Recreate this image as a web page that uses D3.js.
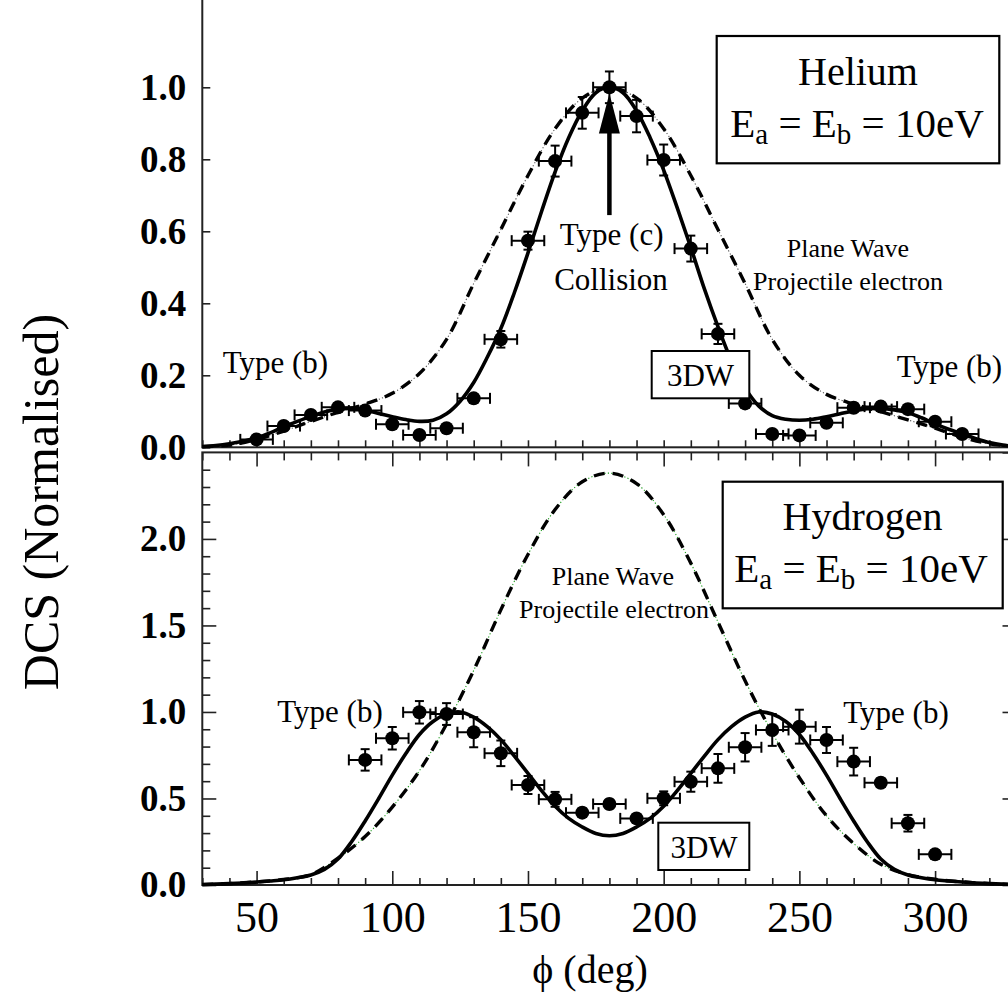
<!DOCTYPE html>
<html><head><meta charset="utf-8">
<script src="https://cdn.jsdelivr.net/npm/d3@7"></script>
<style>
body{margin:0;background:#fff}
svg{display:block}
text{font-family:"Liberation Serif","Times New Roman",Times,serif;fill:#000}
</style>
</head><body>
<svg id="chart" width="1008" height="995"></svg>
<script>
// ---------------- DATA ----------------
// Helium experiment
const phiHe = [50,60,70,80,90,100,110,120,130,140,150,160,170,180,190,200,210,220,230,240,250,260,270,280,290,300,310];
const dcsHe = [0.022,0.059,0.090,0.111,0.102,0.064,0.034,0.053,0.136,0.300,0.574,0.795,0.929,1.000,0.920,0.798,0.552,0.315,0.122,0.037,0.033,0.068,0.110,0.113,0.106,0.071,0.037];
const errHe = [0.01,0.01,0.01,0.012,0.012,0.01,0.01,0.01,0.012,0.023,0.025,0.043,0.044,0.044,0.045,0.043,0.036,0.028,0.012,0.01,0.01,0.01,0.012,0.012,0.012,0.01,0.01];
// Hydrogen experiment
const phiH2 = [90,100,110,120,130,140,150,160,170,180,190,200,210,220,230,240,250,260,270,280,290,300];
const dcsH2 = [0.723,0.848,0.998,0.988,0.883,0.761,0.578,0.495,0.418,0.468,0.385,0.501,0.597,0.674,0.796,0.896,0.915,0.838,0.713,0.591,0.357,0.177];
const errH2 = [0.062,0.065,0.065,0.063,0.087,0.074,0.052,0.043,0.025,0.025,0.025,0.040,0.058,0.083,0.082,0.092,0.098,0.075,0.080,0.025,0.048,0.025];
const phiErr = 6; // horizontal angular uncertainty (deg)

// Theory grids
const phi5 = [30,35,40,45,50,55,60,65,70,75,80,85,90,95,100,105,110,115,120,125,130,135,140,145,150,155,160,165,170,175,180,
              185,190,195,200,205,210,215,220,225,230,235,240,245,250,255,260,265,270,275,280,285,290,295,300,305,310,315,320,325,330];
const phi10 = [30,40,50,60,70,80,90,100,110,120,130,140,150,160,170,180,190,200,210,220,230,240,250,260,270,280,290,300,310,320,330];

// Helium 3DW (solid), on phi5
const he3DW = [0.002,0.005,0.010,0.017,0.026,0.040,0.057,0.072,0.086,0.098,0.106,0.108,0.103,0.094,0.085,0.077,0.072,0.075,0.093,0.128,0.180,0.250,0.330,0.430,0.540,0.655,0.765,0.860,0.935,0.985,1.000,
               0.985,0.935,0.860,0.770,0.665,0.555,0.440,0.335,0.240,0.165,0.115,0.088,0.078,0.075,0.078,0.085,0.093,0.101,0.107,0.108,0.104,0.096,0.082,0.065,0.050,0.037,0.024,0.013,0.006,0.002];
// Helium plane wave (dashed), on phi10
const hePW = [0.002,0.006,0.022,0.045,0.072,0.097,0.120,0.150,0.205,0.300,0.455,0.605,0.755,0.885,0.970,1.000,0.970,0.885,0.755,0.605,0.455,0.300,0.200,0.147,0.120,0.099,0.076,0.053,0.028,0.010,0.003];
// Hydrogen 3DW (solid), on phi5
const h23DW = [0.003,0.005,0.008,0.012,0.017,0.023,0.030,0.042,0.058,0.090,0.150,0.250,0.370,0.500,0.635,0.760,0.870,0.945,0.988,1.000,0.970,0.915,0.840,0.745,0.645,0.545,0.455,0.385,0.335,0.298,0.285,
               0.298,0.335,0.385,0.455,0.545,0.645,0.745,0.840,0.915,0.970,1.000,0.988,0.945,0.870,0.760,0.635,0.500,0.370,0.250,0.150,0.090,0.058,0.042,0.030,0.023,0.017,0.012,0.008,0.005,0.003];
// Hydrogen plane wave (dashed), on phi10
const h2PW = [0.002,0.008,0.018,0.032,0.060,0.155,0.280,0.450,0.660,0.930,1.240,1.590,1.910,2.170,2.330,2.380,2.320,2.140,1.860,1.520,1.180,0.880,0.620,0.400,0.240,0.120,0.060,0.033,0.018,0.008,0.002];

// Ticks
const xMinor = [30,40,50,60,70,80,90,100,110,120,130,140,150,160,170,180,190,200,210,220,230,240,250,260,270,280,290,300,310,320,330];
const xMajor = [50,100,150,200,250,300];
const yTopMajor = [0,0.2,0.4,0.6,0.8,1.0];
const yBotMajor = [0,0.5,1.0,1.5,2.0];
const yBotMajorAll = [0,0.5,1.0,1.5,2.0,2.5];
const yBotMinor = [0.1,0.2,0.3,0.4,0.6,0.7,0.8,0.9,1.1,1.2,1.3,1.4,1.6,1.7,1.8,1.9,2.1,2.2,2.3,2.4];

// ---------------- LAYOUT ----------------
const svg = d3.select('#chart');
svg.append('rect').attr('width',1008).attr('height',995).attr('fill','#fff');

const x = d3.scaleLinear().domain([30,330]).range([202.3,1016.5]);
const yTop = d3.scaleLinear().domain([0,1.25]).range([447.3,-2.7]);
const yBot = d3.scaleLinear().domain([0,2.5]).range([885,452.4]);

const axisColor = '#222';
function styleAxis(g){
  g.select('.domain').remove();
  g.selectAll('.tick line').attr('stroke',axisColor).attr('stroke-width',1.6);
}

// ---- Top panel axes ----
svg.append('g').attr('transform','translate(202.3,0)')
  .call(d3.axisLeft(yTop).tickValues(yTopMajor).tickSize(-8).tickPadding(16).tickFormat(d3.format('.1f')))
  .call(styleAxis)
  .call(g=>g.selectAll('text').attr('font-size',37).attr('font-weight','bold'));
svg.append('g').attr('transform','translate(0,447.3)')
  .call(d3.axisBottom(x).tickValues(xMinor).tickSize(-7).tickFormat(''))
  .call(styleAxis);
svg.append('g').attr('transform','translate(1016.5,0)')
  .call(d3.axisRight(yTop).tickValues(yTopMajor).tickSize(-8).tickFormat(''))
  .call(styleAxis);
svg.append('rect').attr('x',x(30)).attr('y',yTop(1.25)).attr('width',x(330)-x(30)).attr('height',yTop(0)-yTop(1.25))
  .attr('fill','none').attr('stroke',axisColor).attr('stroke-width',2);

// ---- Bottom panel axes ----
svg.append('g').attr('transform','translate(202.3,0)')
  .call(d3.axisLeft(yBot).tickValues(yBotMajor).tickSize(-14).tickPadding(16).tickFormat(d3.format('.1f')))
  .call(styleAxis)
  .call(g=>g.selectAll('text').attr('font-size',37).attr('font-weight','bold'));
svg.append('g').attr('transform','translate(202.3,0)')
  .call(d3.axisLeft(yBot).tickValues(yBotMinor).tickSize(-8).tickFormat(''))
  .call(styleAxis);
svg.append('g').attr('transform','translate(1016.5,0)')
  .call(d3.axisRight(yBot).tickValues(yBotMajorAll).tickSize(-14).tickFormat(''))
  .call(styleAxis);
svg.append('g').attr('transform','translate(1016.5,0)')
  .call(d3.axisRight(yBot).tickValues(yBotMinor).tickSize(-8).tickFormat(''))
  .call(styleAxis);
svg.append('g').attr('transform','translate(0,452.4)')
  .call(d3.axisTop(x).tickValues(xMinor.filter(v=>!xMajor.includes(v))).tickSize(-8).tickFormat(''))
  .call(styleAxis);
svg.append('g').attr('transform','translate(0,452.4)')
  .call(d3.axisTop(x).tickValues(xMajor).tickSize(-14).tickFormat(''))
  .call(styleAxis);
svg.append('g').attr('transform','translate(0,885)')
  .call(d3.axisBottom(x).tickValues(xMinor.filter(v=>!xMajor.includes(v))).tickSize(-7).tickFormat(''))
  .call(styleAxis);
svg.append('g').attr('transform','translate(0,885)')
  .call(d3.axisBottom(x).tickValues(xMajor).tickSize(-14).tickPadding(16).tickFormat(d3.format('d')))
  .call(styleAxis)
  .call(g=>g.selectAll('text').attr('font-size',44));
svg.append('rect').attr('x',x(30)).attr('y',yBot(2.5)).attr('width',x(330)-x(30)).attr('height',yBot(0)-yBot(2.5))
  .attr('fill','none').attr('stroke',axisColor).attr('stroke-width',2);

// ---- Axis titles ----
svg.append('text').attr('transform','translate(58,502) rotate(-90)').attr('text-anchor','middle')
  .attr('font-size',50).text('DCS (Normalised)');
svg.append('text').attr('x',590).attr('y',983).attr('text-anchor','middle').attr('font-size',40).text('ϕ (deg)');

// ---------------- CURVES ----------------
function drawPanel(yS, phiT5, solid, phiT10, pw, dotColor){
  const lineSolid = d3.line().x((d,i)=>x(phiT5[i])).y(d=>yS(d)).curve(d3.curveCatmullRom);
  const linePW = d3.line().x((d,i)=>x(phiT10[i])).y(d=>yS(d)).curve(d3.curveCatmullRom);
  svg.append('path').attr('d',linePW(pw)).attr('fill','none').attr('stroke',dotColor).attr('stroke-width',1.1).attr('stroke-dasharray','1.2,2.2');
  svg.append('path').attr('d',linePW(pw)).attr('fill','none').attr('stroke','#000').attr('stroke-width',3.4).attr('stroke-dasharray','11,8');
  svg.append('path').attr('d',lineSolid(solid)).attr('fill','none').attr('stroke','#000').attr('stroke-width',3.6);
}
drawPanel(yTop, phi5, he3DW, phi10, hePW, '#555');
drawPanel(yBot, phi5, h23DW, phi10, h2PW, '#1a9a1a');

// ---------------- EXPERIMENT ----------------
function drawExp(yS, phis, vals, errs){
  const g = svg.append('g').attr('stroke','#000').attr('stroke-width',2);
  phis.forEach((p,i)=>{
    const cx = x(p), cy = yS(vals[i]);
    const x1 = x(p-phiErr), x2 = x(p+phiErr);
    g.append('line').attr('x1',x1).attr('x2',x2).attr('y1',cy).attr('y2',cy);
    g.append('line').attr('x1',x1).attr('x2',x1).attr('y1',cy-5.5).attr('y2',cy+5.5);
    g.append('line').attr('x1',x2).attr('x2',x2).attr('y1',cy-5.5).attr('y2',cy+5.5);
    const yt = yS(vals[i]+errs[i]), yb = yS(vals[i]-errs[i]);
    g.append('line').attr('x1',cx).attr('x2',cx).attr('y1',yt).attr('y2',yb);
    g.append('line').attr('x1',cx-4.5).attr('x2',cx+4.5).attr('y1',yt).attr('y2',yt);
    g.append('line').attr('x1',cx-4.5).attr('x2',cx+4.5).attr('y1',yb).attr('y2',yb);
  });
  svg.append('g').selectAll('circle').data(phis).join('circle')
    .attr('cx',d=>x(d)).attr('cy',(d,i)=>yS(vals[i])).attr('r',7).attr('fill','#000');
}
drawExp(yTop, phiHe, dcsHe, errHe);
drawExp(yBot, phiH2, dcsH2, errH2);

// ---------------- ANNOTATIONS ----------------
function label(xp, yp, txt, size, anchor){
  return svg.append('text').attr('x',xp).attr('y',yp).attr('font-size',size).attr('text-anchor',anchor||'start').text(txt);
}
// Top panel
label(222.7, 373.3, 'Type (b)', 31);
label(896.7, 376.7, 'Type (b)', 31);
label(611.7, 245, 'Type (c)', 31, 'middle');
label(611, 290, 'Collision', 31, 'middle');
label(848, 256.7, 'Plane Wave', 26, 'middle');
label(848, 290, 'Projectile electron', 26, 'middle');
// arrow
svg.append('line').attr('x1',x(180)).attr('x2',x(180)).attr('y1',yTop(0.645)).attr('y2',yTop(0.88))
  .attr('stroke','#000').attr('stroke-width',4.5);
svg.append('path').attr('d',`M${x(180)},${yTop(0.983)} L${x(180)-10.5},${yTop(0.872)} L${x(180)+10.5},${yTop(0.872)} Z`).attr('fill','#000');
// 3DW box top
svg.append('rect').attr('x',651.7).attr('y',351).attr('width',97.6).attr('height',47.3).attr('fill','#fff').attr('stroke','#000').attr('stroke-width',2);
label(700.5, 386, '3DW', 31, 'middle');
// Helium box
svg.append('rect').attr('x',716.7).attr('y',36).attr('width',282.6).attr('height',127.3).attr('fill','#fff').attr('stroke','#000').attr('stroke-width',2.2);
label(858, 85, 'Helium', 40, 'middle');
function energyLine(cx, by){
  const t = svg.append('text').attr('x',cx).attr('y',by).attr('font-size',41).attr('text-anchor','middle');
  t.append('tspan').text('E');
  t.append('tspan').attr('font-size',29).attr('dy',7).text('a');
  t.append('tspan').attr('dy',-7).text(' = E');
  t.append('tspan').attr('font-size',29).attr('dy',7).text('b');
  t.append('tspan').attr('dy',-7).text(' = 10eV');
}
energyLine(857, 136.7);

// Bottom panel
label(277.3, 721.7, 'Type (b)', 31);
label(843.3, 723.3, 'Type (b)', 31);
label(613, 585, 'Plane Wave', 26, 'middle');
label(614, 618.3, 'Projectile electron', 26, 'middle');
svg.append('rect').attr('x',658.3).attr('y',822.7).attr('width',91).attr('height',47.3).attr('fill','#fff').attr('stroke','#000').attr('stroke-width',2);
label(704, 858.3, '3DW', 31, 'middle');
svg.append('rect').attr('x',722.7).attr('y',481.7).attr('width',280).attr('height',126.6).attr('fill','#fff').attr('stroke','#000').attr('stroke-width',2.2);
label(862.5, 530, 'Hydrogen', 40, 'middle');
energyLine(861, 581.7);
</script>
</body></html>
